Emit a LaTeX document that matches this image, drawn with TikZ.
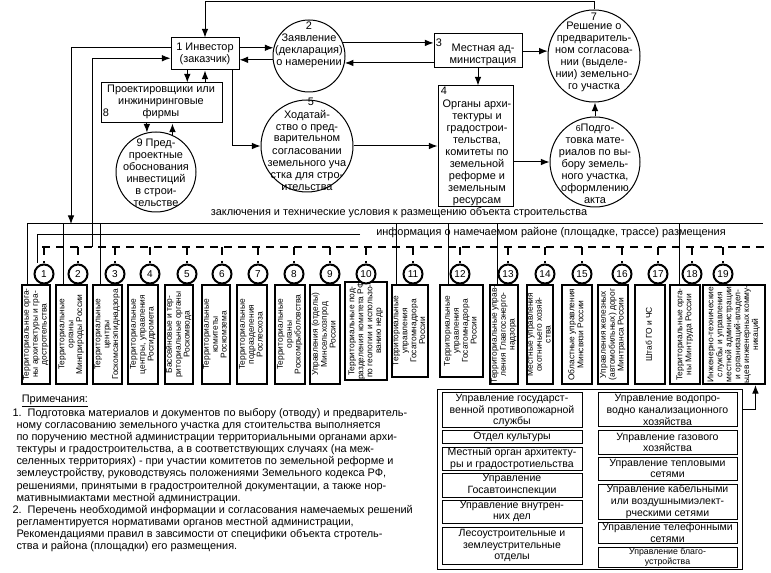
\documentclass[tikz,border=0pt]{standalone}
\usepackage{fontspec}
\setmainfont{Liberation Sans}
\usepackage{graphicx}
\usetikzlibrary{arrows.meta}

\newlength{\pix}
\setlength{\pix}{0.75pt}
\newcommand{\figtxt}{\fontsize{8.2}{9}\selectfont}
\newcommand{\figorg}{\fontsize{6.3}{6.7}\selectfont}
\newcommand{\figsub}{\fontsize{7.9}{8.8}\selectfont}
\newcommand{\fignote}{\fontsize{8.2}{9.1}\selectfont}
\newcommand{\fignum}{\fontsize{7.5}{8}\selectfont}
\newcommand{\vtext}[1]{\rotatebox{90}{\figorg\begin{tabular}{@{}c@{}}#1\end{tabular}}}

\tikzset{
    box/.style={draw, rectangle, inner sep=0pt, align=center, font=\figtxt},
    rnd/.style={draw, circle, inner sep=0pt},
    txt/.style={inner sep=0pt, align=center, font=\figtxt},
    org/.style={draw, line width=1.5pt, inner sep=0pt, minimum height=99\pix},
    num/.style={draw, circle, line width=1.5pt, fill=white, inner sep=0pt, minimum size=19\pix, font=\fignum},
    sub/.style={draw, inner sep=0pt, align=center, font=\figsub},
    link/.style={->},
    bus/.style={line width=1.9pt, dash pattern=on 6pt off 4.5pt}
}

\begin{document}
\begin{tikzpicture}[x=0.75pt, y=-0.75pt, line width=0.75pt, >={Latex[length=6.5pt,width=5pt]}]
    \useasboundingbox (0,0) rectangle (771,573);

    % top part
    \node[box, minimum width=68\pix, minimum height=32\pix] (investor) at (205,54) {1 Инвестор\\(заказчик)};
    \node[rnd, minimum size=72\pix] (statement) at (309,56) {};
    \node[txt] (statement-t) at (309,45) {2\\Заявление\\(декларация)\\о намерении};
    \node[box, minimum width=88\pix, minimum height=34\pix] (admin) at (478,51) {};
    \node[txt] (admin-t) at (483,55) {Местная ад-\\министрация};
    \node[txt] (admin-n) at (439,43) {3};
    \node[box, minimum width=75\pix, minimum height=121\pix] (organs) at (475.5,146.5) {};
    \node[txt] (organs-n) at (444,91) {4};
    \node[txt] (organs-t) at (477,153) {Органы архи-\\тектуры и\\градострои-\\тельства,\\комитеты по\\земельной\\реформе и\\земельным\\ресурсам};
    \node[rnd, minimum size=92\pix] (decision) at (594,56) {};
    \node[txt] (decision-n) at (594,17) {7};
    \node[txt] (decision-t) at (594,57) {Решение о\\предваритель-\\ном согласова-\\нии (выделе-\\нии) земельно-\\го участка};
    \node[rnd, minimum size=90\pix] (prep) at (595,162) {};
    \node[txt] (prep-t) at (595,164) {{\fontsize{6.5}{7}\selectfont 6}Подго-\\товка мате-\\риалов по вы-\\бору земель-\\ного участка,\\оформлению\\акта};
    \node[rnd, minimum size=92\pix] (request) at (307,146) {};
    \node[txt] (request-n) at (311,102) {5};
    \node[txt] (request-t) at (307,150) {Ходатай-\\ство о пред-\\варительном\\согласовании\\земельного уча\\стка для стро-\\ительства};
    \node[box, minimum width=121\pix, minimum height=40\pix] (designers) at (161.5,103) {};
    \node[txt] (designers-t) at (161,101.5) {Проектировщики или\\инжиниринговые\\фирмы};
    \node[txt] (designers-n) at (106,113) {8};
    \node[rnd, minimum size=80\pix] (preproject) at (156,172) {};
    \node[txt] (preproject-t) at (156,172.5) {9 Пред-\\проектные\\обоснования\\инвестиций\\в строи-\\тельстве};

    \draw[link] (decision.north) -- ++(0,-8) -| (investor.north);
    \draw[link] (investor.east |- statement.167) -- (statement.167);
    \draw[link] (statement.186) -- (investor.east |- statement.186);
    \draw[link] (statement.21) -- (admin.west |- statement.21);
    \draw[link] (admin.west |- statement.-11) -- (statement.-11);
    \draw[link] (admin.east |- decision.174) -- (decision.174);
    \draw[link] (admin.south) -- (admin.south |- organs.north);
    \draw[link] (organs.east |- prep.west) -- (prep.west);
    \draw[link] (prep.north) -- (prep.north |- decision.south);
    \draw[link] (investor.-31) |- (request.west);
    \draw[link] (request.east) -- (request.east -| organs.west);
    \draw[link] (investor.-137) -- (investor.-137 |- designers.north);
    \draw[link] (designers.north -| investor.south) -- (investor.south);
    \draw[link] (designers.south -| preproject.103) -- (preproject.103);
    \draw[link] (preproject.66) -- (designers.south -| preproject.66);

    % buses
    \node[txt] (zakl-t) at (399,213) {заключения и технические условия к размещению объекта строительства};
    \node[txt] (info-t) at (551,233) {информация о намечаемом районе (площадке, трассе) размещения};
    \coordinate (zakl-l) at (27,224);
    \coordinate (zakl-r) at (763,224);
    \coordinate (zakl-in) at (71,224);
    \coordinate (z2) at (63,224);
    \coordinate (z3) at (100,224);
    \coordinate (z11) at (396,224);
    \coordinate (z12) at (448,224);
    \coordinate (z13) at (497,224);
    \coordinate (z18) at (679,224);
    \coordinate (info-l) at (37,235);
    \coordinate (info-r) at (360,235);
    \coordinate (dash-l) at (42,247);
    \coordinate (dash-r) at (766,247);
    \coordinate (dash-out) at (92,247);

    \draw[link] (investor.170) -| (zakl-in);
    \draw[link] (dash-out) |- (investor.187);

    % organisations
    \node[org, minimum width=28\pix] (org1) at (36,334.5) {\vtext{Территориальные орга-\\ны архитектуры и гра-\\достротельства}};
    \node[org, minimum width=31\pix] (org2) at (71.5,334.5) {\vtext{Территориальные\\органы\\Минприроды России}};
    \node[org, minimum width=29\pix] (org3) at (107.5,334.5) {\vtext{Территориальные\\центры\\Госкомсанэпиднадзора}};
    \node[org, minimum width=30\pix] (org4) at (143,334.5) {\vtext{Территориальные\\центры, управления\\Росгидромета}};
    \node[org, minimum width=28\pix] (org5) at (179,334.5) {\vtext{Бассейновые и тер-\\риториальные органы\\Роскомвода}};
    \node[org, minimum width=28\pix] (org6) at (216,334.5) {\vtext{Территориальные\\комитеты\\Роскомзема}};
    \node[org, minimum width=30\pix] (org7) at (252,334.5) {\vtext{Территориальные\\подразделения\\Рослесхоза}};
    \node[org, minimum width=30\pix] (org8) at (290,334.5) {\vtext{Территориальные\\органы\\Роскомрыболовства}};
    \node[org, minimum width=30\pix] (org9) at (325,334.5) {\vtext{Управления (отделы)\\Минсельхозпрод\\России}};
    \node[org, minimum width=42\pix, minimum height=92\pix] (org10) at (366,331) {\vtext{Территориальные под-\\разделения комитета РФ\\по геологии и использо-\\ванию недр}};
    \node[org, minimum width=36\pix, minimum height=92\pix] (org11) at (410,331) {\vtext{Территориальные\\управления\\Госатомнадзора\\России}};
    \node[org, minimum width=43\pix, minimum height=92\pix] (org12) at (461.5,331) {\vtext{Территориальные\\управления\\Госатомнадзора\\России}};
    \node[org, minimum width=28\pix] (org13) at (504,334.5) {\vtext{Территориальные управ-\\ления Главгосэнерго-\\надзора}};
    \node[org, minimum width=26\pix] (org14) at (540,334.5) {\vtext{Местные управления\\охотничьего хозяй-\\ства}};
    \node[org, minimum width=30\pix] (org15) at (577,334.5) {\vtext{Областные управления\\Минсвязи России}};
    \node[org, minimum width=30\pix] (org16) at (613,334.5) {\vtext{Управления железных\\(автомобильных) дорог\\Минтранса России}};
    \node[org, minimum width=30\pix] (org17) at (650,334.5) {\vtext{Штаб ГО и ЧС}};
    \node[org, minimum width=30\pix] (org18) at (685,334.5) {\vtext{Территориальные орга-\\ны Минтруда России}};
    \node[org, minimum width=62\pix] (org19) at (734,334.5) {\vtext{Инженерно-технические\\службы и управления\\местной администрации\\и организаций-владел-\\ьцев инженерных комму-\\никаций}};

    \node[num] (num1) at (44,274) {1};
    \node[num] (num2) at (78,274) {2};
    \node[num] (num3) at (115,274) {3};
    \node[num] (num4) at (150,274) {4};
    \node[num] (num5) at (187,274) {5};
    \node[num] (num6) at (222,274) {6};
    \node[num] (num7) at (258,274) {7};
    \node[num] (num8) at (294,274) {8};
    \node[num] (num9) at (330,274) {9};
    \node[num] (num10) at (366,274) {10};
    \node[num] (num11) at (413,274) {11};
    \node[num] (num12) at (460,274) {12};
    \node[num] (num13) at (508,274) {13};
    \node[num] (num14) at (545,274) {14};
    \node[num] (num15) at (582,274) {15};
    \node[num] (num16) at (622,274) {16};
    \node[num] (num17) at (658,274) {17};
    \node[num] (num18) at (692,274) {18};
    \node[num] (num19) at (723,274) {19};

    \draw (zakl-l) -- (zakl-r);
    \draw (zakl-l) -- (zakl-l |- org1.north);
    \draw (z2) -- (z2 |- org2.north);
    \draw (z3) -- (z3 |- org3.north);
    \draw (z11) -- (z11 |- org11.north);
    \draw (z12) -- (z12 |- org12.north);
    \draw (z13) -- (z13 |- org13.north);
    \draw (z18) -- (z18 |- org18.north);
    \draw (info-r) -- (info-l) -- (info-l |- num1.north);

    \draw[bus] (dash-l) -- (dash-r);
    \draw[bus] (dash-l -| num1) -- (num1.north);
    \draw[bus] (dash-l -| num2) -- (num2.north);
    \draw[bus] (dash-l -| num3) -- (num3.north);
    \draw[bus] (dash-l -| num4) -- (num4.north);
    \draw[bus] (dash-l -| num5) -- (num5.north);
    \draw[bus] (dash-l -| num6) -- (num6.north);
    \draw[bus] (dash-l -| num7) -- (num7.north);
    \draw[bus] (dash-l -| num8) -- (num8.north);
    \draw[bus] (dash-l -| num9) -- (num9.north);
    \draw[bus] (dash-l -| num10) -- (num10.north);
    \draw[bus] (dash-l -| num11) -- (num11.north);
    \draw[bus] (dash-l -| num12) -- (num12.north);
    \draw[bus] (dash-l -| num13) -- (num13.north);
    \draw[bus] (dash-l -| num14) -- (num14.north);
    \draw[bus] (dash-l -| num15) -- (num15.north);
    \draw[bus] (dash-l -| num16) -- (num16.north);
    \draw[bus] (dash-l -| num17) -- (num17.north);
    \draw[bus] (dash-l -| num18) -- (num18.north);
    \draw[bus] (dash-l -| num19) -- (num19.north);

    % services
    \node[draw, inner sep=0pt, minimum width=305\pix, minimum height=179\pix] (services) at (589.5,479.5) {};
    \node[sub, minimum width=140\pix, minimum height=35\pix] (fire) at (512,410.5) {Управление государст-\\венной противопожарной\\службы};
    \node[sub, minimum width=140\pix, minimum height=12\pix] (culture) at (512,437) {Отдел культуры};
    \node[sub, minimum width=140\pix, minimum height=23\pix] (arch) at (512,458.5) {Местный орган архитекту-\\ры и градостротиельства};
    \node[sub, minimum width=140\pix, minimum height=24\pix] (traffic) at (512,485) {Управление\\Госавтоинспекции};
    \node[sub, minimum width=140\pix, minimum height=23\pix] (police) at (512,511.5) {Управление внутрен-\\них дел};
    \node[sub, minimum width=140\pix, minimum height=37\pix] (forest) at (512,545.5) {Лесоустроительные и\\землеустрительные\\отделы};
    \node[sub, minimum width=139\pix, minimum height=34\pix] (water) at (667.5,410) {Управление водопро-\\водно канализационного\\хозяйства};
    \node[sub, minimum width=139\pix, minimum height=23\pix] (gas) at (667.5,442.5) {Управление газового\\хозяйства};
    \node[sub, minimum width=139\pix, minimum height=23\pix] (heat) at (667.5,468.5) {Управление тепловыми\\сетями};
    \node[sub, minimum width=139\pix, minimum height=35\pix] (cable) at (667.5,501.5) {Управление кабельными\\или воздушнымиэлект-\\рческими сетями};
    \node[sub, minimum width=139\pix, minimum height=21\pix] (phone) at (667.5,532.5) {Управление телефонными\\сетями};
    \node[sub, minimum width=139\pix, minimum height=20\pix, font=\fontsize{6.6}{7.6}\selectfont] (improve) at (667.5,557) {Управление благо-\\устройства};

    \draw[link] (water -| services.east) -| (org19.-67);

    % notes
    \node[anchor=north west, inner sep=0pt, align=left, font=\fignote] (notes) at (12,394) {%
        \hspace*{7pt}\underline{Примечания:}\\
        1.\ \ Подготовка материалов и документов по выбору (отводу) и предваритель-\\
        \hspace*{3pt}ному согласованию земельного участка для стоительства выполняется\\
        \hspace*{3pt}по поручению местной администрации территориальными органами архи-\\
        \hspace*{3pt}тектуры и градостроительства, а в соответствующих случаях (на меж-\\
        \hspace*{3pt}селенных территориях) - при участии комитетов по земельной реформе и\\
        \hspace*{3pt}землеустройству, руководствуясь положениями Земельного кодекса РФ,\\
        \hspace*{3pt}решениями, принятыми в градостроителной документации, а также нор-\\
        \hspace*{3pt}мативнымиактами местной администрации.\\
        2.\ \ Перечень необходимой информации и согласования намечаемых решений\\
        \hspace*{3pt}регламентируется нормативами органов местной администрации,\\
        \hspace*{3pt}Рекомендациями правил в завсимости от специфики объекта стротель-\\
        \hspace*{3pt}ства и района (площадки) его размещения.};
\end{tikzpicture}
\end{document}
